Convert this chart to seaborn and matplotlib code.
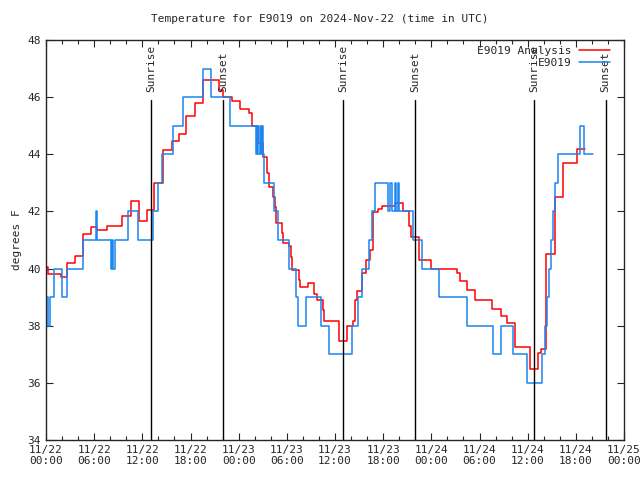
import pandas as pd
import seaborn as sns
import matplotlib.pyplot as plt
import matplotlib.dates as mdates
import matplotlib.transforms as mtrans

# hours since 2024-11-22 00:00 UTC
analysis_hours = [0.0, 0.25, 1.87, 2.62, 3.61, 4.61, 5.6, 6.35, 7.6, 9.46, 10.59, 11.58,
                  12.58, 13.45, 14.57, 15.69, 16.56, 17.43, 18.56, 19.55, 21.54, 22.04,
                  23.16, 24.16, 25.28, 25.65, 26.4, 27.02, 27.52, 27.77, 28.27, 28.52,
                  28.64, 29.39, 29.51, 30.26, 30.51, 30.64, 31.51, 31.63, 32.63, 33.37,
                  33.75, 34.5, 34.62, 36.49, 37.48, 38.23, 38.48, 38.73, 39.35, 39.85,
                  40.35, 40.72, 41.34, 41.84, 43.46, 44.46, 45.2, 45.45, 46.45, 47.95,
                  51.18, 51.56, 52.43, 53.42, 55.54, 56.66, 57.41, 58.41, 60.27, 61.27,
                  61.64, 62.27, 63.39, 64.38, 66.13, 67.12]
analysis_temp = [40.05, 39.8, 39.7, 40.2, 40.45, 41.2, 41.45, 41.35, 41.5, 41.85, 42.35, 41.65,
                 42.05, 43.0, 44.15, 44.45, 44.7, 45.35, 45.8, 46.6, 46.25, 46.0,
                 45.85, 45.6, 45.45, 45.0, 44.4, 43.9, 43.35, 42.85, 42.5, 42.15,
                 41.6, 41.25, 40.9, 40.8, 40.4, 39.95, 39.6, 39.35, 39.5, 39.1,
                 38.9, 38.55, 38.15, 37.45, 38.0, 38.15, 38.9, 39.2, 39.85, 40.3,
                 40.65, 41.98, 42.1, 42.2, 42.3, 42.0, 41.5, 41.1, 40.3, 40.0,
                 39.85, 39.55, 39.25, 38.9, 38.6, 38.35, 38.1, 37.25, 36.5, 37.05,
                 37.2, 40.5, 42.5, 43.7, 44.2, 44.2]

obs_hours = [0.0, 0.25, 0.5, 1.0, 2.0, 2.6, 4.6, 6.2, 6.35, 8.1, 8.2, 8.35, 8.6, 10.2, 11.5,
             13.3, 13.95, 14.45, 15.8, 17.05, 19.55, 20.55, 22.9, 26.15, 26.3, 26.4, 26.65,
             26.8, 26.9, 27.0, 27.15, 28.4, 28.9, 30.25, 31.1, 31.4, 32.4, 34.25, 35.25,
             38.1, 38.85, 39.35, 40.2, 40.6, 41.0, 42.6, 42.85, 43.1, 43.45, 43.6, 43.85,
             43.95, 45.7, 46.8, 48.95, 52.4, 55.65, 56.65, 58.15, 59.9, 61.75, 62.15, 62.35,
             62.65, 62.9, 63.15, 63.4, 63.75, 66.5, 67.0, 68.1]
obs_temp = [39, 38, 39, 40, 39, 40, 41, 42, 41, 40, 41, 40, 41, 42, 41,
            42, 43, 44, 45, 46, 47, 46, 45, 44, 45, 44, 45,
            44, 45, 44, 43, 42, 41, 40, 39, 38, 39, 38, 37,
            38, 39, 40, 41, 42, 43, 42, 43, 42, 43, 42, 43,
            42, 41, 40, 39, 38, 37, 38, 37, 36, 37, 38, 39,
            40, 41, 42, 43, 44, 45, 44, 44]

sun_hours = [13.08, 22.04, 37.0, 45.95, 60.8, 69.7]
sun_labels = ["Sunrise", "Sunset", "Sunrise", "Sunset", "Sunrise", "Sunset"]

base = pd.Timestamp("2024-11-22 00:00")
analysis_df = pd.DataFrame({"time": base + pd.to_timedelta(analysis_hours, unit="h"),
                            "temp": analysis_temp})
obs_df = pd.DataFrame({"time": base + pd.to_timedelta(obs_hours, unit="h"),
                       "temp": obs_temp})

sns.set_style("ticks")
plt.rcParams["font.family"] = ["DejaVu Sans Mono"]
plt.rcParams["font.size"] = 8

fig = plt.figure(figsize=(6.4, 4.8), dpi=100)
ax = fig.add_axes([46 / 640, 40 / 480, 578 / 640, 400 / 480])

sns.lineplot(data=analysis_df, x="time", y="temp", ax=ax, color="#ff0000",
             drawstyle="steps-post", lw=1.1, label="E9019 Analysis")
sns.lineplot(data=obs_df, x="time", y="temp", ax=ax, color="#1a86f0",
             drawstyle="steps-post", lw=1.1, label="E9019")

# sunrise / sunset markers
trans = mtrans.blended_transform_factory(ax.transData, ax.transAxes)
for h, lab in zip(sun_hours, sun_labels):
    t = mdates.date2num(base + pd.Timedelta(hours=h))
    ax.plot([t, t], [0, 0.85], color="black", lw=1.0, transform=trans)
    ax.text(t, 0.87, lab, rotation=90, ha="center", va="bottom",
            transform=trans, fontsize=8)

ax.set_xlim(base, base + pd.Timedelta(hours=72))
ax.set_ylim(34, 48)
ax.set_yticks(range(34, 49, 2))
ax.xaxis.set_major_locator(mdates.HourLocator(byhour=[0, 6, 12, 18]))
ax.xaxis.set_minor_locator(mdates.HourLocator(interval=2))
ax.xaxis.set_major_formatter(mdates.DateFormatter("%m/%d\n%H:%M"))
ax.tick_params(direction="in", top=True, right=True, length=5, width=0.8, labelsize=8)
ax.tick_params(which="minor", direction="in", top=True, length=3, width=0.8)
for s in ax.spines.values():
    s.set_linewidth(1.0)

ax.set_xlabel("")
ax.set_ylabel("degrees F", fontsize=8)
fig.text(0.5, 0.96, "Temperature for E9019 on 2024-Nov-22 (time in UTC)",
         ha="center", va="center", fontsize=8)

ax.legend(loc="upper right", frameon=False, markerfirst=False, fontsize=8,
          handlelength=2.8, handletextpad=0.6, borderaxespad=0.1,
          labelspacing=0.25, bbox_to_anchor=(0.985, 1.0))

plt.savefig("out.png", dpi=100)
